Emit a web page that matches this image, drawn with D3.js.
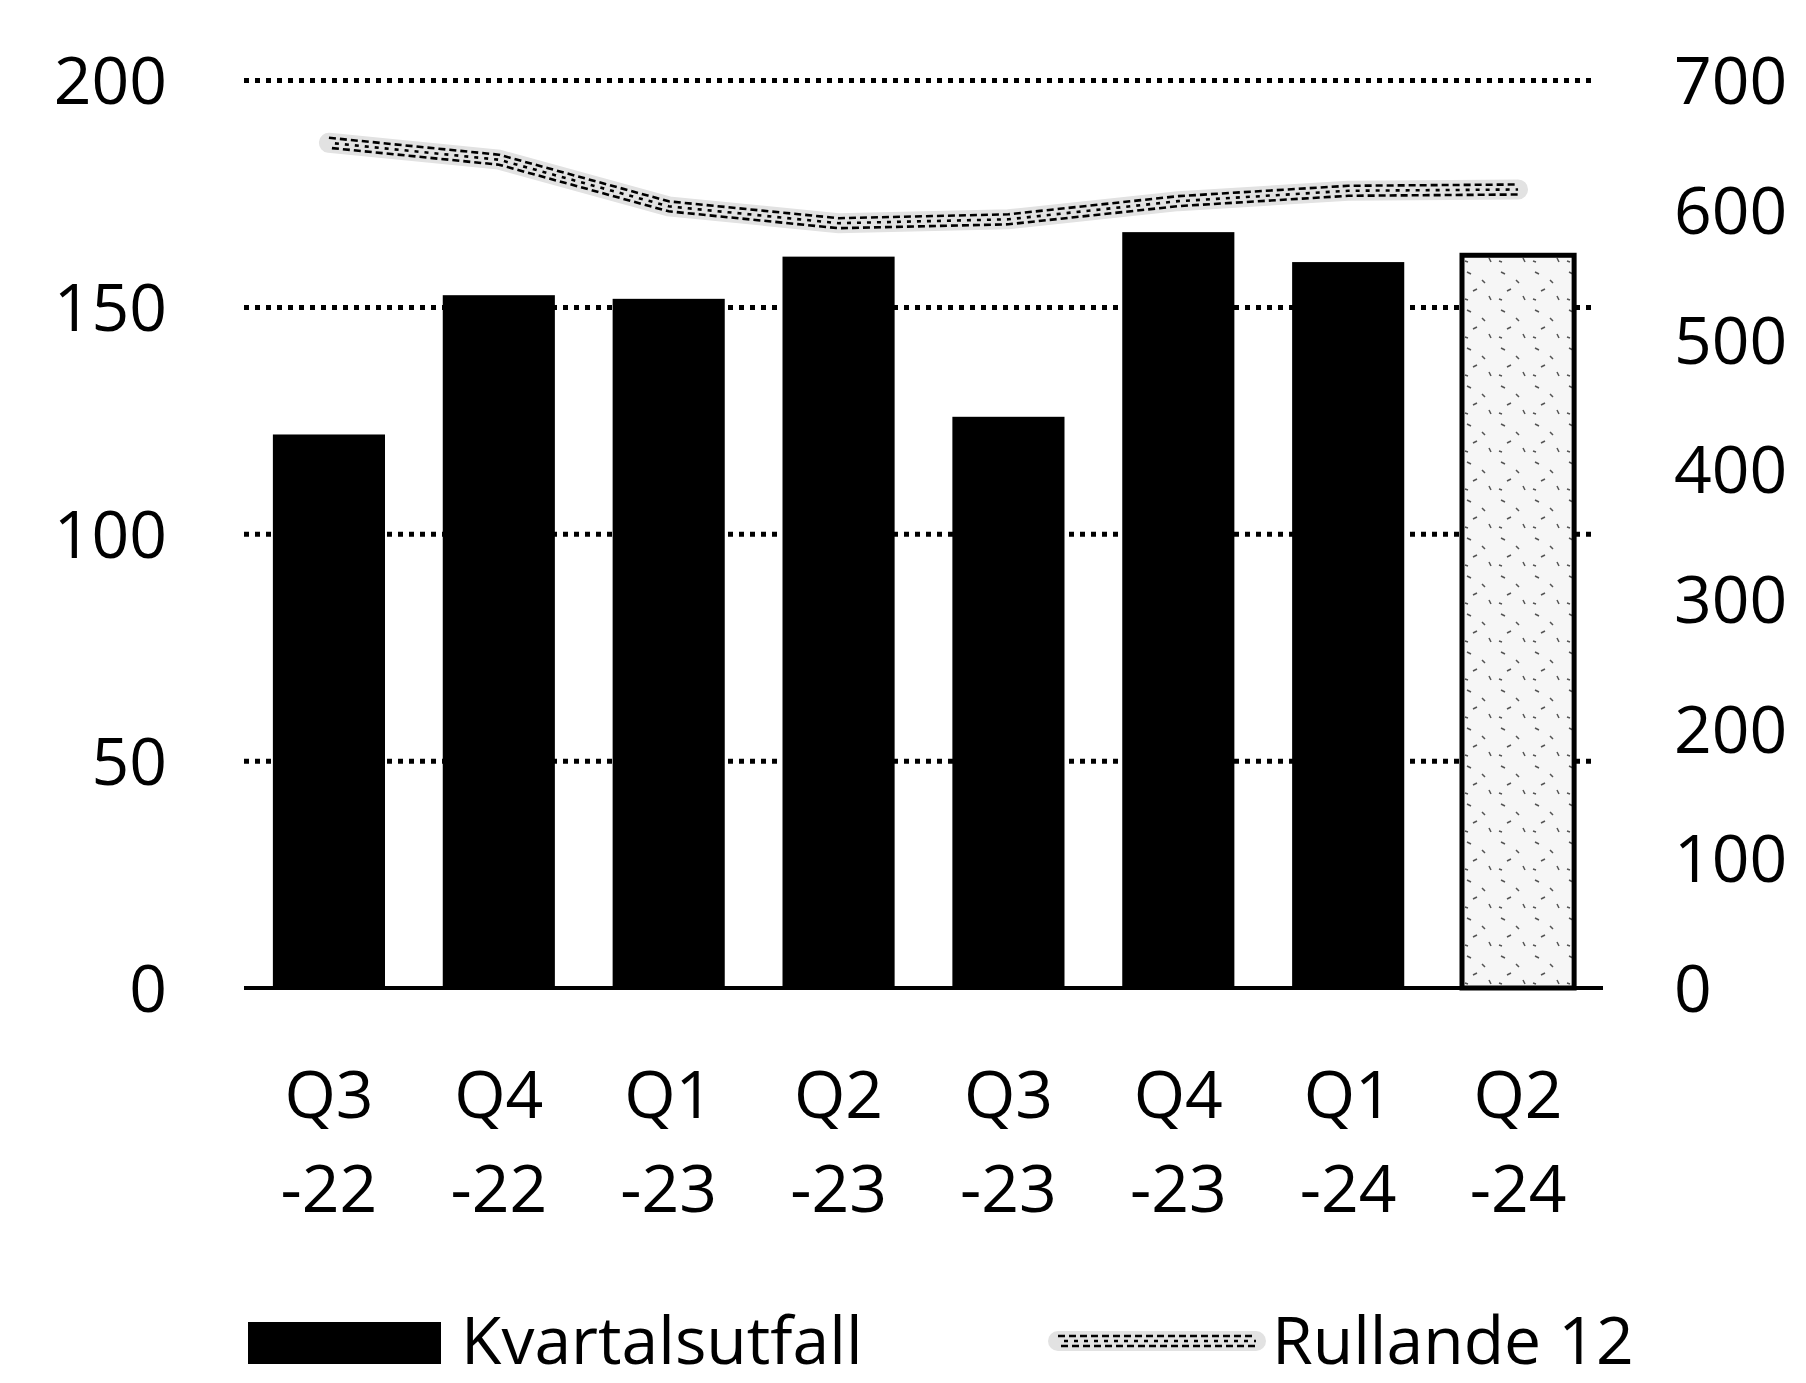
<!DOCTYPE html>
<html>
<head>
<meta charset="utf-8">
<script src="https://cdn.jsdelivr.net/npm/d3@7"></script>
<style>
  body { margin:0; background:#fff; }
  text { font-family: "Open Sans", "DejaVu Sans", sans-serif; fill:#000; }
</style>
</head>
<body>
<div id="chart"></div>
<script>
// data
var quarters = ["Q3","Q4","Q1","Q2","Q3","Q4","Q1","Q2"];
var years    = ["-22","-22","-23","-23","-23","-23","-24","-24"];
var kvartal  = [122, 152.7, 151.9, 161.2, 125.9, 166.6, 160, 161.5];   // left axis
var rullande = [652, 639, 603, 590, 593, 607, 615, 616];              // right axis
var leftTicks  = [0, 50, 100, 150, 200];
var rightTicks = [0, 100, 200, 300, 400, 500, 600, 700];
var legendLabels = ["Kvartalsutfall", "Rullande 12"];

var width = 1806, height = 1383;
var x0 = 244, x1 = 1603, ybase = 988, ytop = 80.6;
var fs = 66;

var svg = d3.select("#chart").append("svg")
    .attr("width", width).attr("height", height);

var defs = svg.append("defs");
// speckled fill for the last (light) bar
var pat = defs.append("pattern").attr("id","speck")
    .attr("patternUnits","userSpaceOnUse").attr("width",34).attr("height",38);
pat.append("rect").attr("width",34).attr("height",38).attr("fill","#f6f6f6");
pat.append("path").attr("d","M5 6l4 2M20 14l3 3M11 25l4-2M27 30l2 4M3 33l3 1")
    .attr("stroke","#555").attr("stroke-width",1.5).attr("fill","none");

var idx = d3.range(quarters.length);
var x = d3.scaleBand().domain(idx).range([x0, x1]).paddingInner(0.34).paddingOuter(0.17);
var yL = d3.scaleLinear().domain([0, 200]).range([ybase, ytop]);
var yR = d3.scaleLinear().domain([0, 700]).range([ybase, ytop]);

// dotted gridlines
svg.append("g").selectAll("line")
    .data(leftTicks.filter(function(d){ return d > 0; }))
    .enter().append("line")
    .attr("x1", x0).attr("x2", x1 - 6)
    .attr("y1", function(d){ return yL(d); })
    .attr("y2", function(d){ return yL(d); })
    .attr("stroke", "#000").attr("stroke-width", 5)
    .attr("stroke-dasharray", "5 6");

// bars
svg.append("g").selectAll("rect")
    .data(kvartal).enter().append("rect")
    .attr("x", function(d,i){ return x(i); })
    .attr("width", x.bandwidth())
    .attr("y", function(d){ return yL(d); })
    .attr("height", function(d){ return ybase - yL(d); })
    .attr("fill", function(d,i){ return i == kvartal.length-1 ? "url(#speck)" : "#000"; })
    .attr("stroke", function(d,i){ return i == kvartal.length-1 ? "#000" : "none"; })
    .attr("stroke-width", 5);

// baseline
svg.append("line").attr("x1", x0).attr("x2", x1)
    .attr("y1", ybase).attr("y2", ybase)
    .attr("stroke", "#000").attr("stroke-width", 4);

// rolling 12 line, textured like the scan
var line = d3.line()
    .x(function(d,i){ return x(i) + x.bandwidth()/2; })
    .y(function(d){ return yR(d); });
function texturedLine(g, d){
    g.append("path").attr("d", d).attr("fill","none")
        .attr("stroke","#e2e2e2").attr("stroke-width",20).attr("stroke-linecap","round");
    [-5, 0, 5].forEach(function(off, k){
        g.append("path").attr("d", d).attr("fill","none")
            .attr("transform","translate(0," + off + ")")
            .attr("stroke","#000").attr("stroke-width",2.6)
            .attr("stroke-dasharray", k==1 ? "4 6" : "7 4")
            .attr("stroke-dashoffset", k*4);
    });
}
texturedLine(svg.append("g"), line(rullande));

// left axis labels
svg.append("g").selectAll("text").data(leftTicks).enter().append("text")
    .attr("x", 167).attr("y", function(d){ return yL(d); })
    .attr("dy", "0.36em").attr("text-anchor","end")
    .style("font-size", fs + "px")
    .text(function(d){ return d; });

// right axis labels
svg.append("g").selectAll("text").data(rightTicks).enter().append("text")
    .attr("x", 1674).attr("y", function(d){ return yR(d); })
    .attr("dy", "0.36em")
    .style("font-size", fs + "px")
    .text(function(d){ return d; });

// category labels, two lines
var xl = svg.append("g").selectAll("g").data(idx).enter().append("g")
    .attr("transform", function(i){ return "translate(" + (x(i) + x.bandwidth()/2) + ",0)"; });
xl.append("text").attr("y", 1118).attr("text-anchor","middle")
    .style("font-size", fs + "px").text(function(i){ return quarters[i]; });
xl.append("text").attr("y", 1212).attr("text-anchor","middle")
    .style("font-size", fs + "px").text(function(i){ return years[i]; });

// legend (kept just inside the bottom edge)
var lg = svg.append("g");
lg.append("rect").attr("x", 248).attr("y", 1322).attr("width", 193).attr("height", 42).attr("fill","#000");
lg.append("text").attr("x", 461).attr("y", 1364).style("font-size", fs + "px").text(legendLabels[0]);
texturedLine(lg.append("g"), "M1058,1341L1256,1341");
lg.append("text").attr("x", 1272).attr("y", 1364).style("font-size", fs + "px").text(legendLabels[1]);
</script>
</body>
</html>
